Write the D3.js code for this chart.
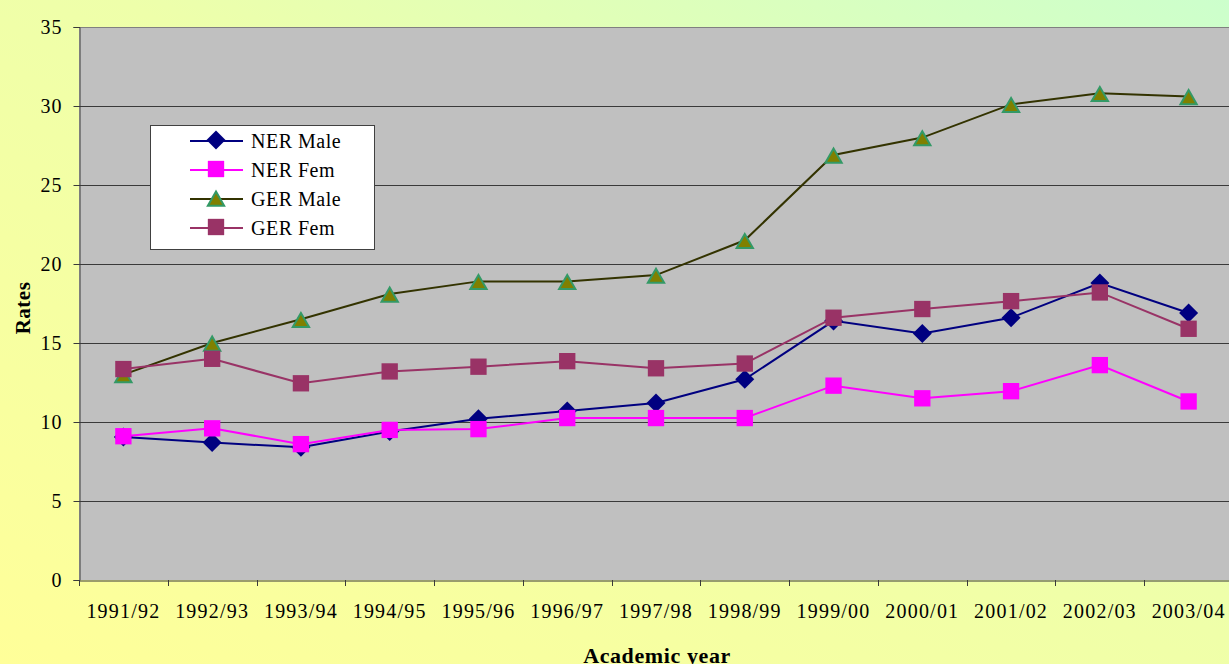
<!DOCTYPE html>
<html>
<head>
<meta charset="utf-8">
<script src="https://cdn.jsdelivr.net/npm/d3@7"></script>
<style>
  body { margin: 0; overflow: hidden; }
  svg { display: block; font-family: "Liberation Serif", "Times New Roman", serif; }
</style>
</head>
<body>
<div class="graph-container"></div>
<script>
const years = ["1991/92","1992/93","1993/94","1994/95","1995/96","1996/97","1997/98","1998/99","1999/00","2000/01","2001/02","2002/03","2003/04"];
const nerMale = [9.05, 8.7, 8.4, 9.4, 10.2, 10.7, 11.2, 12.7, 16.4, 15.6, 16.6, 18.8, 16.9];
const nerFem  = [9.1, 9.6, 8.6, 9.5, 9.55, 10.25, 10.25, 10.25, 12.3, 11.5, 11.95, 13.6, 11.3];
const gerMale = [13.0, 15.0, 16.5, 18.1, 18.9, 18.9, 19.3, 21.5, 26.9, 28.0, 30.1, 30.8, 30.6];
const gerFem  = [13.35, 14.0, 12.45, 13.2, 13.5, 13.85, 13.4, 13.7, 16.6, 17.15, 17.65, 18.2, 15.9];
const yTicks = [0, 5, 10, 15, 20, 25, 30, 35];

const series = [
  { name: "NER Male", values: nerMale, line: "#000080", fill: "#000080", stroke: "none", shape: "diamond" },
  { name: "NER Fem", values: nerFem, line: "#ff00ff", fill: "#ff00ff", stroke: "none", shape: "square" },
  { name: "GER Male", values: gerMale, line: "#333300", fill: "#808000", stroke: "#339966", shape: "triangle" },
  { name: "GER Fem", values: gerFem, line: "#993366", fill: "#993366", stroke: "none", shape: "square" }
];

let dims = { width: 1229, height: 664, left: 79, top: 27, right: 1233, bottom: 580 };

const svg = d3.select(".graph-container").append("svg")
  .attr("width", dims.width).attr("height", dims.height);

const defs = svg.append("defs");
const grad = defs.append("linearGradient").attr("id", "bg")
  .attr("x1", "0%").attr("y1", "100%").attr("x2", "100%").attr("y2", "0%");
grad.append("stop").attr("offset", "0%").attr("stop-color", "#ffff99");
grad.append("stop").attr("offset", "55%").attr("stop-color", "#eeffaa");
grad.append("stop").attr("offset", "100%").attr("stop-color", "#ccffcc");

svg.append("rect").attr("width", dims.width).attr("height", dims.height).attr("fill", "url(#bg)");

const x = d3.scaleBand().domain(years).range([dims.left, dims.right]);
const y = d3.scaleLinear().domain([0, 35]).range([dims.bottom, dims.top]);
const cx = d => x(d) + x.bandwidth() / 2;

// plot area
svg.append("rect")
  .attr("x", dims.left).attr("y", dims.top)
  .attr("width", dims.right - dims.left).attr("height", dims.bottom - dims.top)
  .attr("fill", "#c0c0c0");

// gridlines
svg.append("g").selectAll("line").data(yTicks.filter(t => t > 0)).enter().append("line")
  .attr("x1", dims.left).attr("x2", dims.right)
  .attr("y1", d => Math.round(y(d)) + 0.5).attr("y2", d => Math.round(y(d)) + 0.5)
  .attr("stroke", d => d === 35 ? "#808080" : "#3a3a3a").attr("stroke-width", 1);

// y axis
const yAxis = svg.append("g").attr("transform", `translate(${dims.left + 0.5},0)`)
  .call(d3.axisLeft(y).tickValues(yTicks).tickSize(6).tickPadding(11));
yAxis.select(".domain").attr("stroke", "#3a3a3a");
yAxis.selectAll(".tick line").attr("stroke", "#3a3a3a");
yAxis.selectAll("text").attr("font-size", 20).attr("letter-spacing", 1).attr("fill", "#000")
  .attr("font-family", "Liberation Serif");

// x axis
const xAxis = svg.append("g").attr("transform", `translate(0,${dims.bottom + 0.5})`)
  .call(d3.axisBottom(x).tickSize(0).tickPadding(23));
xAxis.select(".domain").attr("stroke", "#3a3a3a");
xAxis.selectAll("text").attr("font-size", 20).attr("letter-spacing", 1.2).attr("fill", "#000")
  .attr("font-family", "Liberation Serif");
svg.append("g").selectAll("line").data(years).enter().append("line")
  .attr("x1", d => Math.round(x(d)) + 0.5).attr("x2", d => Math.round(x(d)) + 0.5)
  .attr("y1", dims.bottom).attr("y2", dims.bottom + 6)
  .attr("stroke", "#3a3a3a");

// axis titles
svg.append("text").text("Academic year")
  .attr("x", 657).attr("y", 663).attr("text-anchor", "middle")
  .attr("font-size", 22).attr("font-weight", "bold").attr("letter-spacing", 0.6);
svg.append("text").text("Rates")
  .attr("transform", "translate(30,308) rotate(-90)").attr("text-anchor", "middle")
  .attr("font-size", 21).attr("font-weight", "bold").attr("letter-spacing", 0.5);

const markerPath = (shape) => {
  if (shape === "diamond") return d3.symbol(d3.symbolDiamond2, 230)();
  if (shape === "triangle") return d3.symbol(d3.symbolTriangle2, 190)();
  return d3.symbol(d3.symbolSquare2, 340)();
};
const markerDy = shape => shape === "triangle" ? 3 : 0;

const line = d3.line().x((d, i) => cx(years[i])).y(d => y(d));

series.forEach(s => {
  const g = svg.append("g");
  g.append("path").datum(s.values).attr("d", line)
    .attr("fill", "none").attr("stroke", s.line).attr("stroke-width", 2);
  g.selectAll("path.m").data(s.values).enter().append("path").attr("class", "m")
    .attr("d", markerPath(s.shape))
    .attr("transform", (d, i) => `translate(${cx(years[i])},${y(d) + markerDy(s.shape)})`)
    .attr("fill", s.fill).attr("stroke", s.stroke).attr("stroke-width", 2);
});

// legend
const legend = svg.append("g").attr("transform", "translate(150,125)");
legend.append("rect").attr("x", 0.5).attr("y", 0.5).attr("width", 224).attr("height", 124)
  .attr("fill", "#fff").attr("stroke", "#404040");
series.forEach((s, i) => {
  const ly = 16 + i * 29;
  legend.append("line").attr("x1", 40).attr("x2", 93).attr("y1", ly).attr("y2", ly)
    .attr("stroke", s.line).attr("stroke-width", 2);
  legend.append("path").attr("d", markerPath(s.shape))
    .attr("transform", `translate(66,${ly + markerDy(s.shape) - 1})`)
    .attr("fill", s.fill).attr("stroke", s.stroke).attr("stroke-width", 2);
  legend.append("text").text(s.name).attr("x", 101).attr("y", ly + 7)
    .attr("font-size", 20).attr("letter-spacing", 0.5).attr("fill", "#000");
});
</script>
</body>
</html>
